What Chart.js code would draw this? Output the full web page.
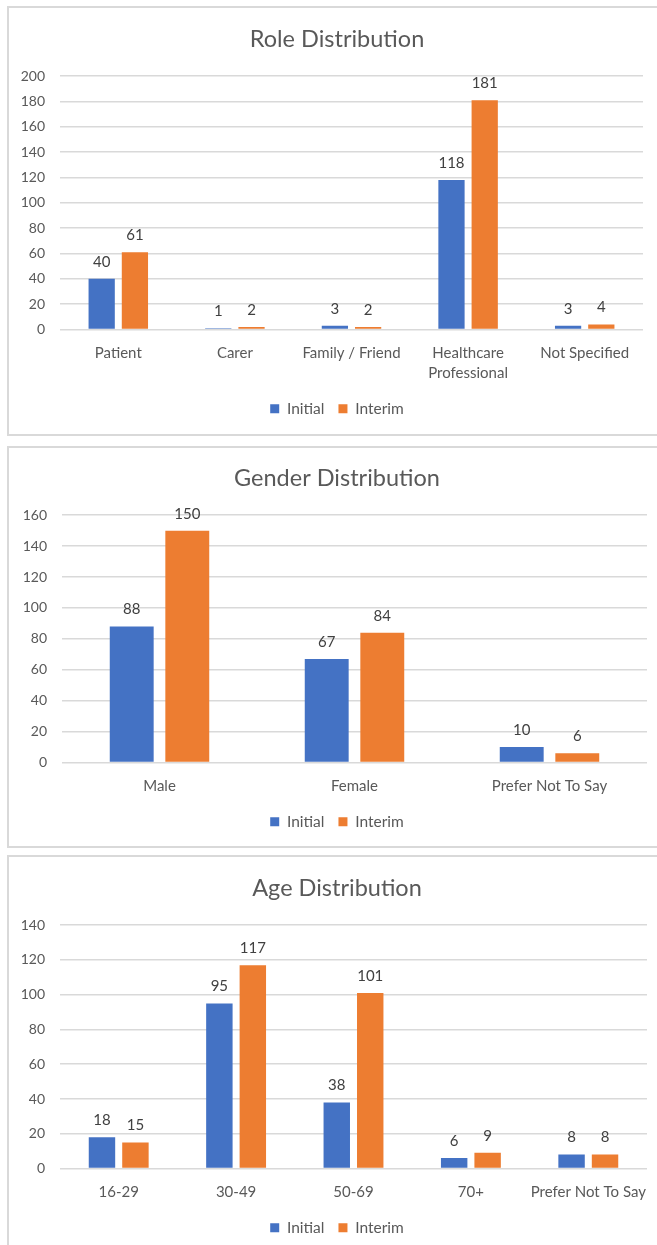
<!DOCTYPE html>
<html>
<head>
<meta charset="utf-8">
<script src="https://cdn.jsdelivr.net/npm/chart.js@4"></script>
<style>
  html, body { margin: 0; padding: 0; background: #fff; overflow: hidden; }
  .panel { position: absolute; left: 7px; width: 700px; border: 2px solid #d9d9d9; box-sizing: border-box; }
  .panel .box { position: absolute; left: 0; top: 0; width: 656px; }
</style>
</head>
<body>
<div class="panel" style="top:6px;height:430px"><div class="box" style="height:419px"><canvas id="role"></canvas></div></div>
<div class="panel" style="top:446px;height:402px"><div class="box" style="height:392px"><canvas id="gender"></canvas></div></div>
<div class="panel" style="top:855px;height:420px"><div class="box" style="height:389px"><canvas id="age"></canvas></div></div>
<script>
'use strict'

// series
var roleLabels = ['Patient', 'Carer', 'Family / Friend', ['Healthcare', 'Professional'], 'Not Specified']
var roleInitial = [40, 1, 3, 118, 3]
var roleInterim = [61, 2, 2, 181, 4]

var genderLabels = ['Male', 'Female', 'Prefer Not To Say']
var genderInitial = [88, 67, 10]
var genderInterim = [150, 84, 6]

var ageLabels = ['16-29', '30-49', '50-69', '70+', 'Prefer Not To Say']
var ageInitial = [18, 95, 38, 6, 8]
var ageInterim = [15, 117, 101, 9, 8]

var seriesNames = ['Initial', 'Interim']
var seriesColors = ['#4472C4', '#ED7D31']

var FONT = 'Lato'
var TEXT = '#595959'
var GRID = '#d9d9d9'

// draws the number above each bar
var valueLabels = {
  id: 'valueLabels',
  afterDatasetsDraw: function (chart) {
    var ctx = chart.ctx
    ctx.save()
    ctx.font = '15px ' + FONT
    ctx.fillStyle = '#404040'
    ctx.textAlign = 'center'
    ctx.textBaseline = 'middle'
    chart.data.datasets.forEach(function (ds, i) {
      chart.getDatasetMeta(i).data.forEach(function (bar, j) {
        ctx.fillText(ds.data[j], bar.x, bar.y - 17)
      })
    })
    ctx.restore()
  }
}

function makeChart(id, title, labels, initial, interim, yMax, geo) {
  var ctx = document.getElementById(id).getContext('2d')
  return new Chart(ctx, {
    type: 'bar',
    data: {
      labels: labels,
      datasets: [
        { label: seriesNames[0], data: initial, backgroundColor: seriesColors[0] },
        { label: seriesNames[1], data: interim, backgroundColor: seriesColors[1] }
      ]
    },
    plugins: [valueLabels],
    options: {
      responsive: true,
      maintainAspectRatio: false,
      animation: false,
      datasets: { bar: { categoryPercentage: 0.57, barPercentage: 0.79 } },
      layout: { padding: { left: 0, right: 0, top: 0, bottom: 0.5 } },
      plugins: {
        title: {
          display: true,
          text: title,
          color: TEXT,
          font: { family: FONT, size: 23.5, weight: 'normal', lineHeight: 1.2 },
          padding: { top: geo.titleTop, bottom: geo.titleBottom }
        },
        legend: {
          position: 'bottom',
          labels: {
            color: TEXT,
            boxWidth: 9,
            boxHeight: 9,
            padding: 14,
            font: { family: FONT, size: 15.5 }
          }
        },
        tooltip: { enabled: false }
      },
      scales: {
        x: {
          grid: { display: false, drawTicks: false },
          border: { display: false },
          ticks: {
            color: TEXT,
            padding: 14,
            maxRotation: 0,
            autoSkip: false,
            font: { family: FONT, size: 15, lineHeight: 1.33 }
          },
          afterFit: function (scale) { scale.height = geo.xHeight }
        },
        y: {
          min: 0,
          max: yMax,
          grid: { color: GRID, lineWidth: 1.5, drawTicks: false },
          border: { display: false },
          ticks: {
            stepSize: 20,
            color: TEXT,
            padding: 15,
            font: { family: FONT, size: 14 }
          },
          afterFit: function (scale) { scale.width = geo.yWidth }
        },
        // empty right-hand axis: only reserves the margin on the right
        spacer: {
          position: 'right',
          grid: { display: false, drawTicks: false },
          border: { display: false },
          ticks: { display: false },
          afterFit: function (scale) { scale.width = geo.rightWidth }
        }
      }
    }
  })
}

makeChart('role', 'Role Distribution', roleLabels, roleInitial, roleInterim, 200,
  { yWidth: 51, rightWidth: 22, titleTop: 17.5, titleBottom: 22.5, xHeight: 57.5 })
makeChart('gender', 'Gender Distribution', genderLabels, genderInitial, genderInterim, 160,
  { yWidth: 53, rightWidth: 18, titleTop: 16.5, titleBottom: 22.5, xHeight: 37.5 })
makeChart('age', 'Age Distribution', ageLabels, ageInitial, ageInterim, 140,
  { yWidth: 51, rightWidth: 18, titleTop: 17.5, titleBottom: 22.5, xHeight: 37.5 })
</script>
</body>
</html>
